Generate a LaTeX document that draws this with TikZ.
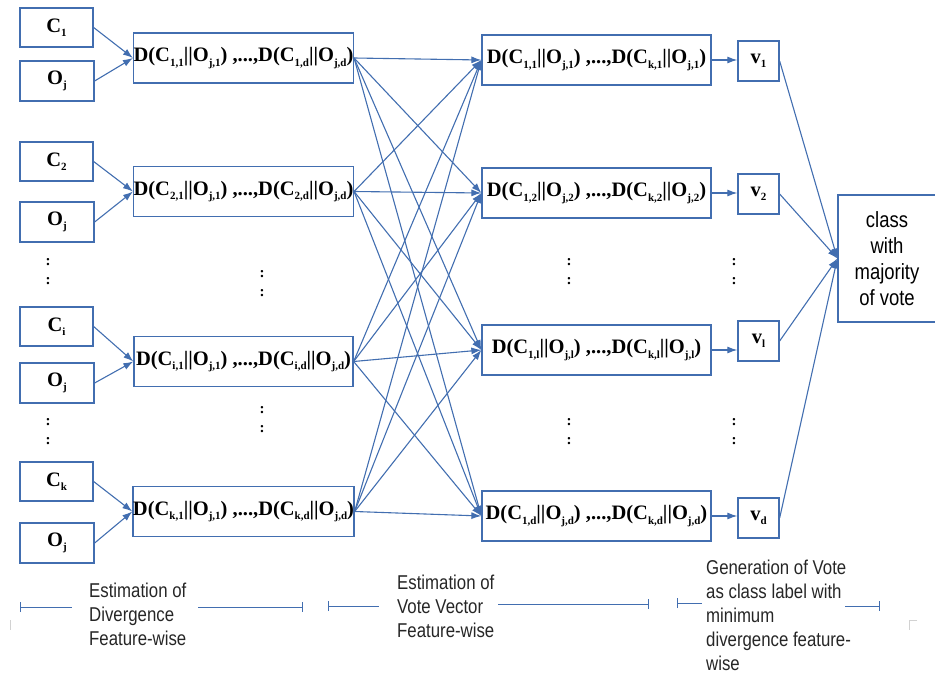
\documentclass[tikz,border=0pt]{standalone}
\usepackage{fontspec}
\setmainfont{Liberation Serif}
\newfontfamily\narrowsans[FakeStretch=0.84]{Liberation Sans}
\usetikzlibrary{arrows.meta}
\definecolor{boxblue}{RGB}{66,110,176}
% small lowered index used inside the boxes
\newcommand{\sbs}[1]{\raisebox{-0.45ex}{\fontsize{11}{11}\selectfont #1}}

\begin{document}
\begin{tikzpicture}[x=1pt,y=-1pt,
  box/.style={draw=boxblue,line width=1.3pt,inner sep=0pt,text=black,font=\fontsize{20.5}{24}\selectfont\bfseries},
  lnk/.style={draw=boxblue,line width=1.1pt,-{Latex[length=10pt,width=7pt]}},
  span/.style={draw=boxblue,line width=0.9pt},
  note/.style={font=\narrowsans\fontsize{20}{24}\selectfont,align=left,anchor=west,inner sep=0pt,text=black!85},
  dots/.style={font=\fontsize{15}{19}\selectfont\bfseries,align=center,inner sep=0pt}]
	\clip (0,0) rectangle (935,674);
	
	% inputs and divergence boxes
	\foreach \n/\r/\yc/\yo/\yd in {1/1/27.5/81/58,2/2/161.5/222/191.5,3/i/326.5/383/361.5,4/k/481.5/543/511.5}{
		\node[box,minimum width=73pt,minimum height=39pt] (c\n) at (56.5,\yc) {C\sbs{\r}};
		\node[box,minimum width=74pt,minimum height=40pt] (o\n) at (57,\yo) {O\sbs{j}};
		\node[box,minimum width=219pt,minimum height=50pt] (dl\n) at (243.5,\yd) {D(C\sbs{\r,1}||O\sbs{j,1}) ,...,D(C\sbs{\r,d}||O\sbs{j,d})};
		\draw[lnk] (c\n.east) -- (dl\n.west);
		\draw[lnk] (o\n.east) -- (dl\n.west);
	}
	
	% feature-wise boxes and votes
	\foreach \n/\r/\yd/\yv in {1/1/60/61,2/2/193/194,3/l/350/341,4/d/516/518}{
		\node[box,minimum width=229pt,minimum height=50pt] (dr\n) at (596.5,\yd) {D(C\sbs{1,\r}||O\sbs{j,\r}) ,...,D(C\sbs{k,\r}||O\sbs{j,\r})};
		\node[box,minimum width=41pt,minimum height=40pt] (v\n) at (758.5,\yv) {v\sbs{\r}};
		\draw[lnk] (dr\n.east) -- (dr\n.east -| v\n.west);
	}
	
	\node[draw=boxblue,line width=1.3pt,minimum width=98pt,minimum height=127pt,align=center,
	  font=\narrowsans\fontsize{22}{26}\selectfont] (cls) at (887,258.5) {class\\with\\majority\\of vote};
	
	\foreach \a in {1,...,4}
		\foreach \b in {1,...,4}
			\draw[lnk] (dl\a.east) -- (dr\b.west);
	\foreach \b in {1,...,4}
		\draw[lnk] (v\b.east) -- (cls.west);
	
	% vertical dots
	\foreach \x/\y in {48/272,48/432,262/284,262/420,569/272,569/432,734/272,734/432}
		\node[dots] at (\x,\y) {:\\:};
	
	% stage labels
	\node[note] (st1) at (89,614) {Estimation of\\Divergence\\Feature-wise};
	\node[note] (st2) at (397,606) {Estimation of\\Vote Vector\\Feature-wise};
	\node[note] (st3) at (706,615) {Generation of Vote\\as class label with\\minimum\\divergence feature-\\wise};
	\draw[span,{Bar[width=10pt]}-] (20,607) -- (72,607);
	\draw[span,-{Bar[width=10pt]}] (198,607) -- (303,607);
	\draw[span,{Bar[width=10pt]}-] (328,606) -- (379,606);
	\draw[span,-{Bar[width=10pt]}] (498,604) -- (649,604);
	\draw[span,{Bar[width=10pt]}-] (677,603) -- (702,603);
	\draw[span,-{Bar[width=10pt]}] (845,606) -- (880,606);
	
	\draw[gray!35,line width=0.8pt] (10,620) -- (10,630);
	\draw[gray!35,line width=0.8pt] (917,620) -- (909,620) -- (909,630);
\end{tikzpicture}
\end{document}
